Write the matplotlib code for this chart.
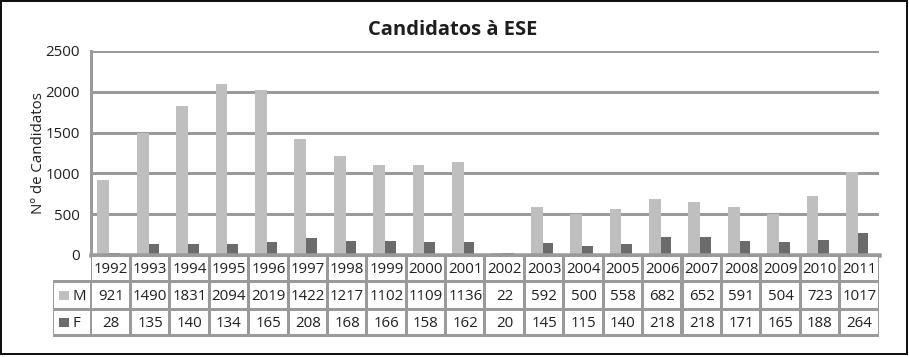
import matplotlib
matplotlib.use("Agg")
import matplotlib.pyplot as plt
from matplotlib.patches import Rectangle
import numpy as np

plt.rcParams['font.family'] = ['Open Sans', 'DejaVu Sans']

years = ['1992', '1993', '1994', '1995', '1996', '1997', '1998', '1999', '2000', '2001',
         '2002', '2003', '2004', '2005', '2006', '2007', '2008', '2009', '2010', '2011']
m_vals = [921, 1490, 1831, 2094, 2019, 1422, 1217, 1102, 1109, 1136,
          22, 592, 500, 558, 682, 652, 591, 504, 723, 1017]
f_vals = [28, 135, 140, 134, 165, 208, 168, 166, 158, 162,
          20, 145, 115, 140, 218, 218, 171, 165, 188, 264]
series_names = ['M', 'F']
title = 'Candidatos à ESE'
ylabel = 'Nº de Candidatos'
yticks = [0, 500, 1000, 1500, 2000, 2500]

W, H = 909, 357
DPI = 100
fig = plt.figure(figsize=(W / DPI, H / DPI), dpi=DPI)

c_m = '#bfbfbf'
c_f = '#6b6b6b'
c_grid = '#9a9a9a'
c_txt = '#1e1e1e'
px = 72.0 / DPI  # points per pixel
fs = 10.8

def fx(x):
    return x / W

def fy(y):
    return 1 - y / H

L, R, T, B = 91, 879, 51, 255
ax = fig.add_axes([fx(L), fy(B), fx(R - L), (B - T) / H])
n = len(years)
x = np.arange(n)
ax.bar(x - 0.19, m_vals, width=0.30, color=c_m, zorder=3)
ax.bar(x + 0.095, f_vals, width=0.27, color=c_f, zorder=3)
ax.axhline(0, color=c_grid, linewidth=4.5 * px, zorder=5, clip_on=False)
ax.set_xlim(-0.5, n - 0.5)
ax.set_ylim(0, 2500)
ax.set_yticks(yticks)
ax.set_yticklabels([str(v) for v in yticks], fontsize=fs, color=c_txt)
ax.set_xticks([])
ax.tick_params(axis='y', length=0, pad=8)
ax.yaxis.grid(True, color=c_grid, linewidth=3 * px, zorder=1)
for s in ['top', 'right', 'bottom']:
    ax.spines[s].set_visible(False)
ax.spines['left'].set_color(c_grid)
ax.spines['left'].set_linewidth(3 * px)
ax.spines['left'].set_zorder(6)
ax.set_ylabel(ylabel, fontsize=fs, color=c_txt)
ax.yaxis.set_label_coords((46 - L) / (R - L), 0.5)

# Title
fig.text(fx(453), fy(30), title, ha='center', va='center', fontsize=14.5,
         fontweight='bold', color=c_txt)

# Table axes: x in same column units, y in pixels
colw = (R - L) / n
leg_w = (L - 53) / colw
tab_top, tab_bot = 253.5, 337
tax = fig.add_axes([fx(53), fy(tab_bot), fx(R - 53), (tab_bot - tab_top) / H])
tax.set_xlim(-0.5 - leg_w, n - 0.5)
tax.set_ylim(tab_bot, tab_top)
tax.axis('off')

lw_px = 3.0
ins_y = lw_px / 2
ins_x = (lw_px / 2) / colw
rows = [(255, 281.5), (281.5, 309.5), (309.5, 335.5)]
# gray background
tax.add_patch(Rectangle((-0.5, rows[0][0] - ins_y), n, rows[0][1] - rows[0][0] + ins_y * 2,
                        facecolor=c_grid, edgecolor='none'))
tax.add_patch(Rectangle((-0.5 - leg_w, rows[1][0] - ins_y), n + leg_w,
                        rows[2][1] - rows[1][0] + ins_y * 2,
                        facecolor=c_grid, edgecolor='none'))
row_texts = [years, [str(v) for v in m_vals], [str(v) for v in f_vals]]
for r, (y0, y1) in enumerate(rows):
    y0w = y0 + ins_y + (1.0 if r == 0 else 0)
    for i in range(n):
        tax.add_patch(Rectangle((i - 0.5 + ins_x, y0w), 1 - 2 * ins_x,
                                y1 - ins_y - y0w, facecolor='white', edgecolor='none'))
        tax.text(i, (y0 + y1) / 2 + 1, row_texts[r][i], ha='center', va='center',
                 fontsize=fs, color=c_txt)
    if r > 0:
        tax.add_patch(Rectangle((-0.5 - leg_w + ins_x, y0 + ins_y), leg_w - 2 * ins_x,
                                (y1 - y0) - 2 * ins_y, facecolor='white', edgecolor='none'))
        col = c_m if r == 1 else c_f
        sq = 9.5 / colw
        tax.add_patch(Rectangle((-0.5 - leg_w + 6 / colw, (y0 + y1) / 2 - 4.5), sq, 9.5,
                                facecolor=col, edgecolor='none'))
        tax.text(-0.5 - leg_w + 19 / colw, (y0 + y1) / 2 + 1, series_names[r - 1],
                 ha='left', va='center', fontsize=fs, color=c_txt)

# Outer frame
fig.patches.append(Rectangle((fx(1), fy(354)), fx(906), (353) / H, transform=fig.transFigure,
                             facecolor='none', edgecolor='#111111', linewidth=2 * px))

fig.savefig('out.png', dpi=DPI, facecolor='white')
